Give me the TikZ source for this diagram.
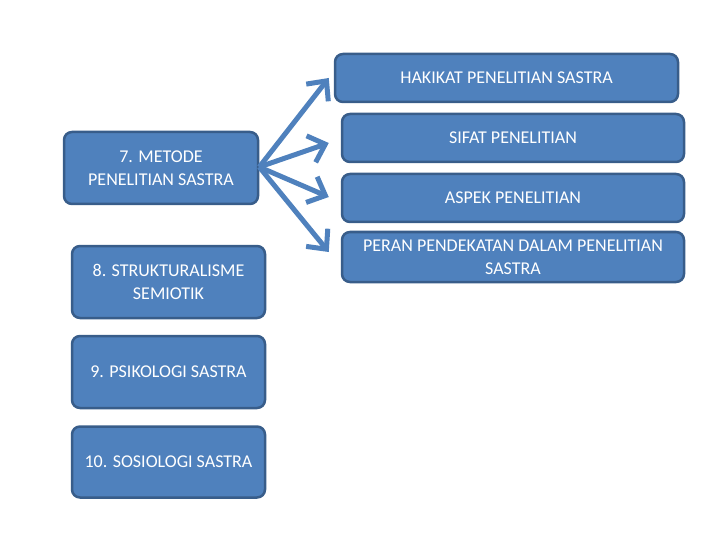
\documentclass[tikz,border=0pt]{standalone}
\usepackage{fontspec}
\setmainfont{Carlito}
\usepackage{tikz}
\usetikzlibrary{calc}
\usetikzlibrary{arrows.meta}
\definecolor{boxblue}{HTML}{4F81BD}
\definecolor{edgeblue}{HTML}{385D8A}
\tikzset{
  topic/.style={rectangle, rounded corners=8pt, draw=edgeblue, line width=2.5pt, fill=boxblue, text=white, align=center, font=\fontsize{18}{23}\selectfont},
  branch/.style={draw=boxblue, line width=5pt, -{Straight Barb[length=15pt, width=28pt, line width=5pt]}}
}

\begin{document}
\begin{tikzpicture}[x=1pt, y=-1pt]
			\useasboundingbox (0,0) rectangle (720,540);
			%left column
			\node at (161,168) (metode) [topic, minimum width=194pt, minimum height=72pt] {7. METODE\\PENELITIAN SASTRA};
			\node at (168.5,282) (struktur) [topic, minimum width=193pt, minimum height=72pt] {8. STRUKTURALISME\\SEMIOTIK};
			\node at (168.5,372) (psikologi) [topic, minimum width=193pt, minimum height=72pt] {9. PSIKOLOGI SASTRA};
			\node at (168.5,462) (sosiologi) [topic, minimum width=193pt, minimum height=71pt] {10. SOSIOLOGI SASTRA};

			%right column
			\node at (506.5,78) (hakikat) [topic, minimum width=343pt, minimum height=48pt] {HAKIKAT PENELITIAN SASTRA};
			\node at (513,138) (sifat) [topic, minimum width=342pt, minimum height=48pt] {SIFAT PENELITIAN};
			\node at (513,198) (aspek) [topic, minimum width=342pt, minimum height=48pt] {ASPEK PENELITIAN};
			\node at (513,257) (peran) [topic, minimum width=342pt, minimum height=50pt, inner sep=0pt] {PERAN PENDEKATAN DALAM PENELITIAN\\SASTRA};

			%arrows
			\draw [branch] ($(metode.east) + (0,-1)$) -- ($(hakikat.west) + (-5,0)$);
			\draw [branch] ($(metode.east) + (0,-1)$) -- ($(sifat.west) + (-12,5)$);
			\draw [branch] ($(metode.east) + (0,-1)$) -- ($(aspek.west) + (-12,-1)$);
			\draw [branch] ($(metode.east) + (0,-1)$) -- ($(peran.west) + (-12,-5)$);
		\end{tikzpicture}
\end{document}
